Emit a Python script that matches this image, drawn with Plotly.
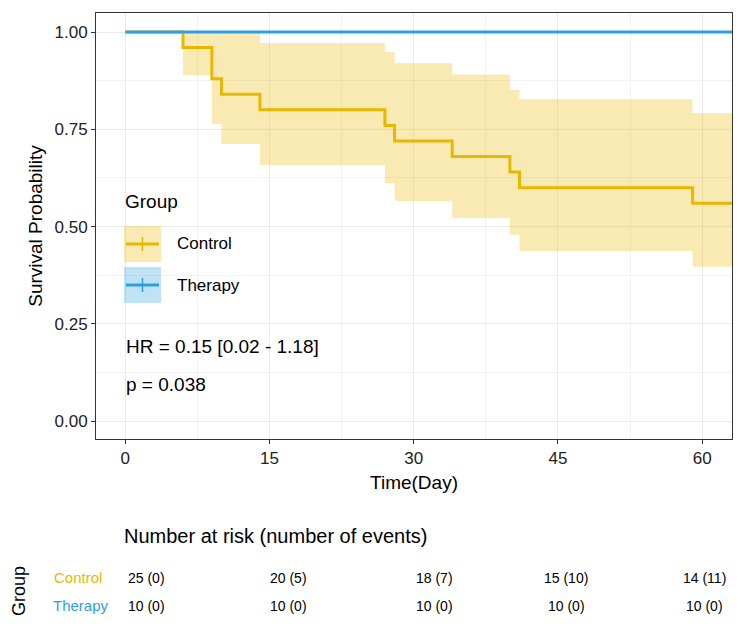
import plotly.graph_objects as go

# Control KM estimate
ctrl_t = [0, 6, 9, 10, 14, 27, 28, 34, 40, 41, 59, 63.1]
ctrl_s = [1.0, 0.96, 0.88, 0.84, 0.80, 0.76, 0.72, 0.68, 0.64, 0.60, 0.56, 0.56]
ctrl_up = [1.0, 1.0, 1.0, 1.0, 0.972, 0.949, 0.920, 0.891, 0.851, 0.827, 0.791, 0.791]
ctrl_lo = [1.0, 0.889, 0.764, 0.712, 0.658, 0.612, 0.566, 0.522, 0.479, 0.437, 0.397, 0.397]
ther_t = [0, 63.1]
ther_s = [1.0, 1.0]
x_ticks = [0, 15, 30, 45, 60]
y_ticks = [0, 0.25, 0.5, 0.75, 1.0]
y_labels = ["0.00", "0.25", "0.50", "0.75", "1.00"]
risk_ctrl = ["25 (0)", "20 (5)", "18 (7)", "15 (10)", "14 (11)"]
risk_ther = ["10 (0)", "10 (0)", "10 (0)", "10 (0)", "10 (0)"]
risk_px = [145, 287, 433, 565, 703]

GOLD = "#E7B800"
BLUE = "#2E9FDF"
fig = go.Figure()
fig.add_trace(go.Scatter(x=ctrl_t, y=ctrl_lo, mode="lines", line=dict(width=0, shape="hv"), hoverinfo="skip", showlegend=False))
fig.add_trace(go.Scatter(x=ctrl_t, y=ctrl_up, mode="lines", line=dict(width=0, shape="hv"), fill="tonexty",
                         fillcolor="rgba(231,184,0,0.3)", hoverinfo="skip", showlegend=False))
fig.add_trace(go.Scatter(x=ctrl_t, y=ctrl_s, mode="lines", line=dict(color=GOLD, width=3, shape="hv"), showlegend=False))
fig.add_trace(go.Scatter(x=ther_t, y=ther_s, mode="lines", line=dict(color=BLUE, width=3, shape="hv"), showlegend=False))

def px(x): return (x - 95) / 636
def py(y): return (438 - y) / 426

shapes = [
    dict(type="rect", xref="paper", yref="paper", x0=px(112), x1=px(256), y0=py(308), y1=py(180),
         fillcolor="white", line=dict(width=0), layer="below"),
]
for yc, col, fc in [(243, GOLD, "rgba(231,184,0,0.3)"), (284, BLUE, "rgba(46,159,223,0.3)")]:
    shapes.append(dict(type="rect", xref="paper", yref="paper", x0=px(123), x1=px(160), y0=py(yc + 18), y1=py(yc - 18),
                       fillcolor=fc, line=dict(width=0)))
    shapes.append(dict(type="line", xref="paper", yref="paper", x0=px(125), x1=px(158), y0=py(yc), y1=py(yc),
                       line=dict(color=col, width=3)))
    shapes.append(dict(type="line", xref="paper", yref="paper", x0=px(141.5), x1=px(141.5), y0=py(yc - 7), y1=py(yc + 7),
                       line=dict(color=col, width=1.5)))

F = "Liberation Sans, Arial, sans-serif"
def A(x, y, text, size, color="black", xanchor="center", **kw):
    return dict(x=px(x), y=py(y), xref="paper", yref="paper", text=text, showarrow=False,
                xanchor=xanchor, yanchor="middle", font=dict(size=size, color=color), **kw)

ann = [
    A(122, 201, "Group", 19, xanchor="left"),
    A(174, 243, "Control", 17, xanchor="left"),
    A(174, 284, "Therapy", 17, xanchor="left"),
    A(123, 345, "HR = 0.15 [0.02 - 1.18]", 19, xanchor="left"),
    A(123, 383, "p = 0.038", 19, xanchor="left"),
    A(121, 535, "Number at risk (number of events)", 20, xanchor="left"),
    A(103, 576, "Control", 15, GOLD, xanchor="right"),
    A(110, 604, "Therapy", 15, BLUE, xanchor="right"),
    A(18, 590, "Group", 18, textangle=-90),
]
for p, a, b in zip(risk_px, risk_ctrl, risk_ther):
    ann.append(A(p, 577, a, 14))
    ann.append(A(p, 605, b, 14))

ax = dict(showline=True, linecolor="#333333", linewidth=1, mirror=True, ticks="outside", ticklen=4,
          tickcolor="#333333", gridcolor="#EBEBEB", gridwidth=1.2, zeroline=False,
          tickfont=dict(size=17, color="#222"))
fig.update_layout(
    width=744, height=641, margin=dict(l=88, r=20, t=5, b=210),
    plot_bgcolor="white", paper_bgcolor="white", font=dict(family=F),
    shapes=shapes, annotations=ann,
    xaxis=dict(ax, range=[-3.05, 63.1], tickvals=x_ticks, minor=dict(dtick=7.5, tick0=7.5, gridcolor="#F3F3F3", showgrid=True),
               title=dict(text="Time(Day)", font=dict(size=19, color="black"), standoff=8)),
    yaxis=dict(ax, range=[-0.046, 1.049], tickvals=y_ticks, ticktext=y_labels,
               minor=dict(dtick=0.125, tick0=0.125, gridcolor="#F3F3F3", showgrid=True),
               title=dict(text="Survival Probability", font=dict(size=19, color="black"), standoff=6)),
)
fig.write_html("out.html")
